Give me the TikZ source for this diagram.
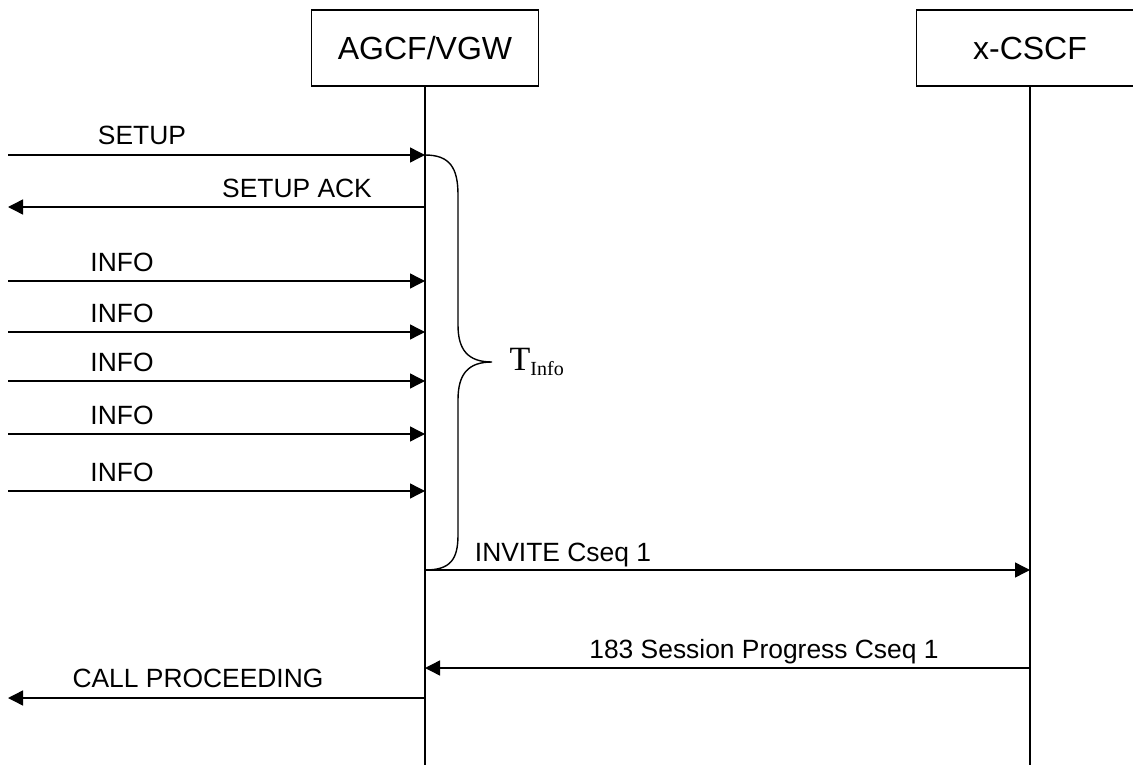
\documentclass[tikz,border=0pt]{standalone}
\usepackage{fontspec}
\setmainfont{Liberation Sans}
\newfontfamily\serifface{Liberation Serif}
\usetikzlibrary{arrows.meta}
\begin{document}
\begin{tikzpicture}[x=1pt,y=-1pt,
  line width=1.4pt,
  entity/.style={draw, line width=1.2pt, minimum width=227pt, minimum height=76pt, inner sep=0pt, font=\fontsize{32}{36}\selectfont},
  msg/.style={-{Triangle[length=15pt,width=15pt]}},
  lbl/.style={anchor=base, font=\fontsize{26.4}{30}\selectfont, inner sep=0pt}]
\useasboundingbox (0,0) rectangle (1133,765);
\clip (0,0) rectangle (1133,765);
% entities
\node[entity] (agcf) at (425,48) {AGCF/VGW};
\node[entity] (cscf) at (1030,48) {x-CSCF};
\coordinate (agcfEnd) at (425,765);
\coordinate (cscfEnd) at (1030,765);
\draw (agcf.south) -- (agcfEnd);
\draw (cscf.south) -- (cscfEnd);
% message endpoints
\coordinate (L1) at (8,155);   \coordinate (A1) at (425,155);
\coordinate (L2) at (8,207);   \coordinate (A2) at (425,207);
\coordinate (L3) at (8,281);   \coordinate (A3) at (425,281);
\coordinate (L4) at (8,332);   \coordinate (A4) at (425,332);
\coordinate (L5) at (8,381);   \coordinate (A5) at (425,381);
\coordinate (L6) at (8,434);   \coordinate (A6) at (425,434);
\coordinate (L7) at (8,491);   \coordinate (A7) at (425,491);
\coordinate (A8) at (425,570); \coordinate (C8) at (1030,570);
\coordinate (A9) at (425,668); \coordinate (C9) at (1030,668);
\coordinate (L10) at (8,698);  \coordinate (A10) at (425,698);
% messages
\draw[msg] (L1) -- (A1);
\node[lbl] (t1) at (142,145) {SETUP};
\draw[msg] (A2) -- (L2);
\node[lbl] (t2) at (297,197) {SETUP ACK};
\draw[msg] (L3) -- (A3);
\node[lbl] (t3) at (122,271) {INFO};
\draw[msg] (L4) -- (A4);
\node[lbl] (t4) at (122,322) {INFO};
\draw[msg] (L5) -- (A5);
\node[lbl] (t5) at (122,371) {INFO};
\draw[msg] (L6) -- (A6);
\node[lbl] (t6) at (122,424) {INFO};
\draw[msg] (L7) -- (A7);
\node[lbl] (t7) at (122,481) {INFO};
\draw[msg] (A8) -- (C8);
\node[lbl] (t8) at (563,561) {INVITE Cseq 1};
\draw[msg] (C9) -- (A9);
\node[lbl] (t9) at (764,658) {183 Session Progress Cseq 1};
\draw[msg] (A10) -- (L10);
\node[lbl] (t10) at (198,687) {CALL PROCEEDING};
% brace
\coordinate (tip) at (492,362);
\draw (A1) .. controls (450,155) and (458,168) .. (458,195)
  -- (458,325) .. controls (458,350) and (468,362) .. (tip)
  .. controls (468,362) and (458,374) .. (458,400)
  -- (458,535) .. controls (458,560) and (450,570) .. (A8);
\node[anchor=west, inner sep=0pt, font=\serifface\fontsize{34}{36}\selectfont] (tinfo) at (509,362) {T\raisebox{-5pt}{\fontsize{20}{22}\selectfont Info}};
\end{tikzpicture}
\end{document}
